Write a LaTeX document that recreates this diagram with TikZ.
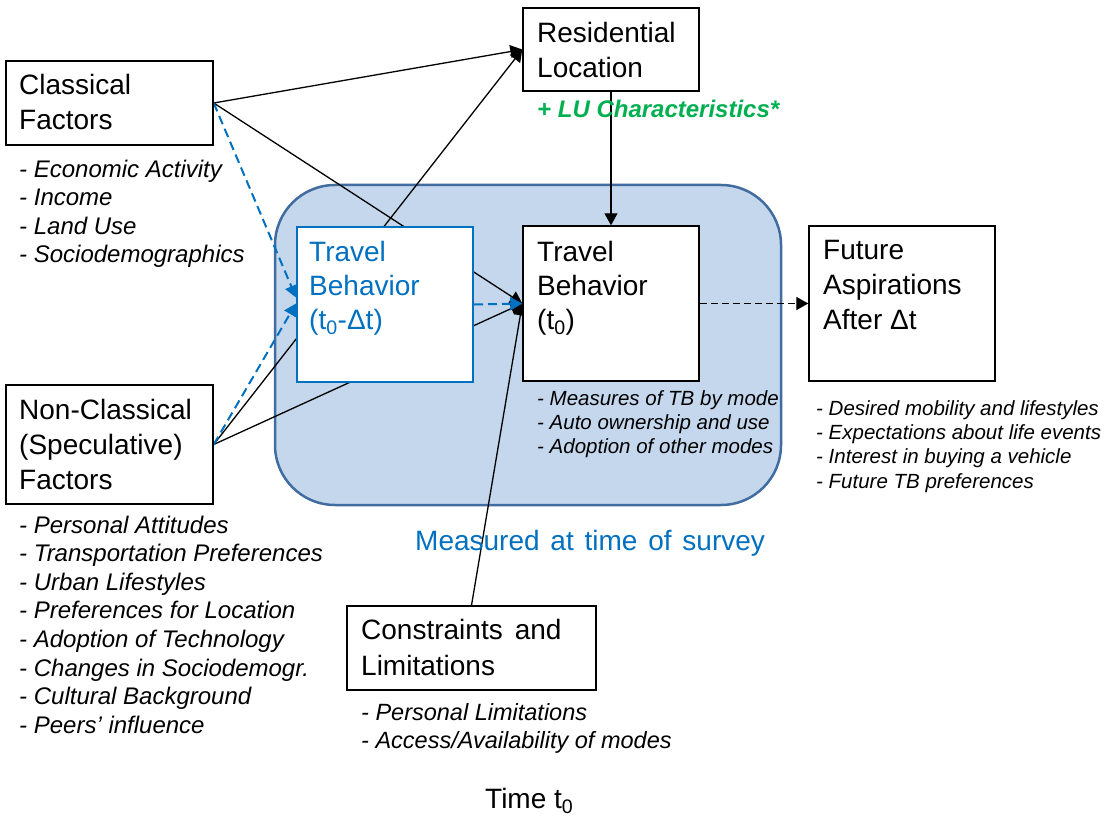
\documentclass[tikz,border=0pt]{standalone}
\usepackage{fontspec}
\setmainfont{Liberation Sans}
\usetikzlibrary{arrows.meta}
\pgfdeclarelayer{bg}
\pgfdeclarelayer{mid}
\pgfsetlayers{bg,mid,main}
\definecolor{tblue}{RGB}{0,112,192}
\definecolor{lgreen}{RGB}{0,176,80}
\definecolor{bigfill}{RGB}{197,215,237}
\definecolor{bigline}{RGB}{65,108,160}
\begin{document}
\begin{tikzpicture}[x=1pt,y=-1pt,
  box/.style={draw=black,fill=white,line width=1.4pt,inner sep=0pt,rectangle},
  bbox/.style={draw=tblue,fill=white,line width=2pt,inner sep=0pt,rectangle},
  bigbox/.style={draw=bigline,fill=bigfill,line width=2.5pt,inner sep=0pt,rectangle,rounded corners=60pt},
  txt/.style={inner sep=0pt,anchor=base west,align=left,font=\fontsize{28}{35}\selectfont},
  lst/.style={inner sep=0pt,anchor=base west,align=left,font=\fontsize{24}{28.6}\selectfont\itshape},
  slst/.style={inner sep=0pt,anchor=base west,align=left,font=\fontsize{20.5}{24.3}\selectfont\itshape},
  conn/.style={draw=black,line width=1.3pt},
  arr/.style={-{Triangle[length=12pt,width=13pt]}},
  bdash/.style={draw=tblue,line width=2pt,dash pattern=on 9pt off 5pt},
  kdash/.style={draw=black,line width=1.3pt,dash pattern=on 7pt off 4pt}
]
\useasboundingbox (0,0) rectangle (1107,818);

% background and big rounded region
\begin{pgfonlayer}{bg}
\fill[white] (0,0) rectangle (1107,818);
\node[bigbox,minimum width=506pt,minimum height=320pt] (big) at (528,345) {};
\end{pgfonlayer}

% boxes
\node[box,minimum width=207pt,minimum height=84pt] (cls) at (109.5,103) {};
\node[box,minimum width=207pt,minimum height=119pt] (ncls) at (109.5,444.5) {};
\node[box,minimum width=176pt,minimum height=83pt] (res) at (611,49.5) {};
\node[bbox,minimum width=176pt,minimum height=155pt] (tbd) at (385,304.5) {};
\node[box,minimum width=176pt,minimum height=155pt] (tb0) at (611,303.5) {};
\node[box,minimum width=186pt,minimum height=155pt] (fut) at (902,303.5) {};
\node[box,minimum width=249pt,minimum height=84pt] (con) at (471.5,648) {};

% connectors
\begin{pgfonlayer}{mid}
\draw[conn,arr] (cls.east) -- (res.west);
\draw[conn,arr] (cls.east) -- (tb0.west);
\draw[conn,arr] (ncls.east) -- (res.west);
\draw[conn,arr] (ncls.east) -- (tb0.west);
\draw[conn,arr] (con.north) -- (tb0.west);
\draw[conn,arr] (res.south) -- (tb0.north);
\draw[kdash,arr] (tb0.east) -- (fut.west);
\draw[bdash,arr] (cls.east) -- ([yshift=7pt]tbd.west);
\draw[bdash,arr] (ncls.east) -- ([yshift=1pt]tbd.west);
\draw[bdash,arr] (tbd.east) -- (tb0.west);
\end{pgfonlayer}

% texts (anchored at the baseline of their last line)
\node[txt] (clst) at (19,130) {Classical\\Factors};
\node[lst] (clsl) at (19,262.8) {- Economic Activity\\- Income\\- Land Use\\- Sociodemographics};
\node[txt] (nclst) at (19,489) {Non-Classical\\(Speculative)\\Factors};
\node[lst] (nclsl) at (19,733.2) {- Personal Attitudes\\- Transportation Preferences\\- Urban Lifestyles\\- Preferences for Location\\- Adoption of Technology\\- Changes in Sociodemogr.\\- Cultural Background\\- Peers’ influence};
\node[txt] (rest) at (537,78) {Residential\\Location};
\node[inner sep=0pt,anchor=base west,text=lgreen,font=\fontsize{24}{28}\selectfont\bfseries\itshape] (lu) at (537,118) {+ LU Characteristics*};
\node[txt,text=tblue,font=\fontsize{28}{34}\selectfont] (tbdt) at (309,329) {Travel\\Behavior\\(t\textsubscript{0}-Δt)};
\node[txt,font=\fontsize{28}{34}\selectfont] (tb0t) at (537,329) {Travel\\Behavior\\(t\textsubscript{0})};
\node[slst] (tb0l) at (537,453.6) {- Measures of TB by mode\\- Auto ownership and use\\- Adoption of other modes};
\node[txt] (futt) at (823,329) {Future\\Aspirations\\After Δt};
\node[slst] (futl) at (816,488) {- Desired mobility and lifestyles\\- Expectations about life events\\- Interest in buying a vehicle\\- Future TB preferences};
\node[txt,font=\fontsize{28}{36}\selectfont] (cont) at (361,675) {Constraints\hspace{12pt}and\\Limitations};
\node[lst,font=\fontsize{23.5}{28}\selectfont\itshape] (conl) at (361,748) {- Personal Limitations\\- Access/Availability of modes};
\node[txt,text=tblue] (meas) at (415,550) {Measured\hspace{10.8pt}at\hspace{10.8pt}time\hspace{10.8pt}of\hspace{10.8pt}survey};
\node[txt] (time) at (485,808) {Time t\textsubscript{0}};
\end{tikzpicture}
\end{document}
